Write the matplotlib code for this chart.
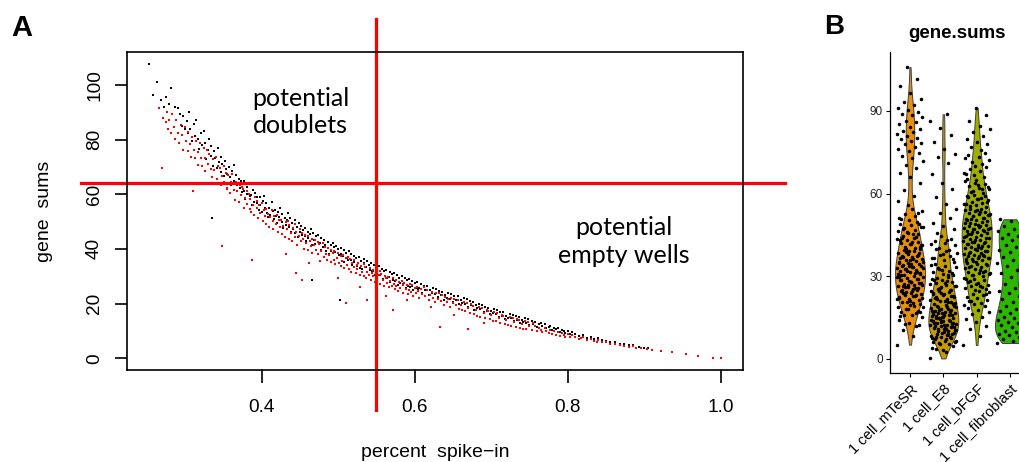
import numpy as np
import matplotlib
matplotlib.use("Agg")
import matplotlib.pyplot as plt

# ---------------- panel A: gene sums vs percent spike-in ----------------
# (percent spike-in, gene sums)
black_points = [
    (0.252, 107.6), (0.258, 96.3), (0.263, 100.9), (0.268, 94.4), (0.272, 92.0), (0.275, 95.6),
    (0.279, 93.1), (0.281, 98.7), (0.283, 89.4), (0.286, 91.8), (0.288, 87.0), (0.290, 91.5),
    (0.293, 89.2), (0.295, 85.1), (0.297, 88.6), (0.299, 84.0), (0.302, 86.9), (0.304, 82.3),
    (0.305, 90.0), (0.306, 83.8), (0.308, 79.4), (0.311, 85.6), (0.313, 81.2), (0.314, 87.0),
    (0.316, 80.3), (0.318, 76.4), (0.320, 82.5), (0.322, 78.0), (0.324, 83.1),
    (0.326, 78.9), (0.327, 72.8), (0.329, 76.3), (0.331, 80.1), (0.333, 74.0), (0.334, 77.5),
    (0.335, 51.3), (0.336, 70.2), (0.337, 75.8), (0.339, 73.1), (0.341, 69.6), (0.342, 76.9),
    (0.344, 71.7), (0.346, 73.6), (0.347, 68.0), (0.348, 70.9), (0.350, 66.8), (0.352, 72.2),
    (0.353, 69.3), (0.354, 67.4), (0.356, 64.1), (0.357, 69.9), (0.358, 66.2), (0.360, 63.5),
    (0.361, 68.4), (0.363, 70.5), (0.364, 65.0), (0.366, 67.2), (0.367, 63.4), (0.368, 61.0),
    (0.370, 65.6), (0.371, 62.1), (0.373, 64.7), (0.374, 60.7), (0.376, 61.3), (0.377, 64.8),
    (0.378, 58.4), (0.380, 62.6), (0.381, 60.0), (0.383, 63.9), (0.384, 59.2), (0.386, 59.8),
    (0.387, 55.9), (0.388, 61.7), (0.390, 57.3), (0.391, 60.5), (0.393, 56.6), (0.394, 58.8),
    (0.396, 54.2), (0.397, 58.9), (0.398, 56.0), (0.400, 53.6), (0.401, 57.4), (0.403, 59.3),
    (0.404, 55.1), (0.406, 56.6), (0.407, 53.2), (0.408, 51.5), (0.410, 55.0), (0.411, 52.4),
    (0.413, 57.0), (0.414, 53.9), (0.416, 50.9), (0.417, 54.4), (0.418, 52.2), (0.420, 49.4),
    (0.421, 53.6), (0.423, 51.6), (0.424, 55.0), (0.426, 49.9), (0.427, 52.9), (0.428, 47.7),
    (0.430, 51.3), (0.431, 48.8), (0.433, 50.6), (0.434, 53.0), (0.436, 48.1), (0.437, 51.2),
    (0.438, 46.0), (0.440, 49.5), (0.441, 47.3), (0.443, 50.4), (0.444, 45.8), (0.446, 47.9),
    (0.447, 44.4), (0.448, 49.3), (0.450, 46.3), (0.451, 48.4), (0.453, 45.1), (0.454, 47.0),
    (0.456, 44.7), (0.457, 47.6), (0.458, 42.9), (0.460, 46.1), (0.461, 43.8), (0.463, 45.4),
    (0.464, 47.2), (0.465, 28.6), (0.466, 41.3), (0.467, 45.9), (0.468, 43.4), (0.470, 41.9),
    (0.471, 44.6), (0.473, 42.6), (0.474, 45.2), (0.476, 42.1), (0.477, 39.6), (0.478, 44.0),
    (0.480, 40.8), (0.481, 43.2), (0.483, 41.5), (0.484, 39.3), (0.486, 40.3), (0.487, 42.6),
    (0.488, 38.1), (0.490, 41.3), (0.491, 39.2), (0.493, 42.0), (0.494, 40.7), (0.496, 38.9),
    (0.497, 41.1), (0.498, 36.8), (0.500, 39.8), (0.501, 37.6), (0.502, 21.3), (0.503, 40.5),
    (0.504, 38.3), (0.506, 37.4), (0.507, 39.6), (0.508, 35.3), (0.510, 38.6), (0.511, 36.5),
    (0.513, 35.8), (0.514, 39.2), (0.516, 36.0), (0.517, 38.1), (0.518, 34.2), (0.520, 37.3),
    (0.521, 35.1), (0.523, 36.8), (0.524, 33.9), (0.526, 34.7), (0.527, 36.9), (0.528, 33.0),
    (0.530, 35.6), (0.531, 32.6), (0.533, 35.0), (0.534, 36.3), (0.536, 33.3), (0.537, 35.4),
    (0.538, 31.5), (0.540, 34.1), (0.541, 32.4), (0.543, 35.0), (0.544, 31.9), (0.546, 32.0),
    (0.547, 34.0), (0.548, 30.3), (0.550, 33.1), (0.551, 31.2), (0.553, 33.8), (0.554, 30.6),
    (0.556, 30.9), (0.557, 32.7), (0.558, 29.0), (0.560, 31.8), (0.561, 30.1), (0.563, 32.4),
    (0.564, 29.5), (0.566, 29.7), (0.567, 31.5), (0.568, 27.9), (0.570, 30.7), (0.571, 28.8),
    (0.573, 31.2), (0.574, 28.3), (0.576, 28.6), (0.577, 30.3), (0.578, 26.8), (0.580, 29.5),
    (0.581, 27.7), (0.583, 30.0), (0.584, 27.2), (0.586, 27.5), (0.587, 29.2), (0.588, 25.8),
    (0.590, 28.5), (0.591, 26.6), (0.593, 28.9), (0.594, 26.1), (0.596, 26.6), (0.597, 28.2),
    (0.598, 24.9), (0.600, 27.4), (0.601, 25.7), (0.603, 28.0), (0.604, 25.3), (0.606, 25.8),
    (0.608, 27.3), (0.610, 24.0), (0.612, 26.5), (0.614, 24.8), (0.616, 26.3), (0.618, 23.2),
    (0.620, 24.9), (0.622, 23.8), (0.624, 25.8), (0.626, 23.6), (0.628, 25.4), (0.630, 22.3),
    (0.632, 24.6), (0.634, 23.0), (0.636, 24.4), (0.638, 21.4), (0.640, 23.1), (0.642, 22.0),
    (0.644, 24.0), (0.646, 21.8), (0.648, 23.5), (0.650, 20.5), (0.652, 22.7), (0.654, 21.2),
    (0.656, 22.6), (0.658, 19.7), (0.660, 21.3), (0.662, 20.3), (0.664, 22.1), (0.666, 20.0),
    (0.668, 21.7), (0.670, 18.8), (0.672, 20.9), (0.674, 19.4), (0.676, 20.5), (0.678, 17.8),
    (0.680, 19.3), (0.682, 18.4), (0.684, 20.0), (0.686, 18.0), (0.688, 19.6), (0.690, 16.8),
    (0.692, 18.9), (0.694, 17.4), (0.696, 18.5), (0.698, 16.0), (0.700, 17.3), (0.702, 16.5),
    (0.704, 18.0), (0.706, 16.3), (0.708, 17.6), (0.710, 15.2), (0.712, 17.0), (0.714, 15.6),
    (0.716, 16.8), (0.718, 14.4), (0.720, 15.6), (0.722, 14.9), (0.724, 16.2), (0.726, 14.6),
    (0.728, 15.9), (0.730, 13.6), (0.732, 15.3), (0.734, 14.0), (0.736, 15.1), (0.738, 12.9),
    (0.740, 13.9), (0.742, 13.3), (0.744, 14.6), (0.746, 12.9), (0.748, 14.2), (0.750, 12.2),
    (0.753, 13.6), (0.755, 12.5), (0.757, 13.3), (0.760, 11.6), (0.762, 12.4), (0.765, 12.9),
    (0.767, 11.8), (0.770, 12.4), (0.772, 10.9), (0.775, 11.5), (0.777, 11.9), (0.780, 10.3),
    (0.782, 11.2), (0.785, 10.6), (0.787, 10.9), (0.790, 9.5), (0.792, 10.2), (0.795, 10.0),
    (0.797, 9.2), (0.800, 9.8), (0.803, 9.0), (0.806, 9.6), (0.810, 8.9), (0.815, 8.0),
    (0.820, 8.6), (0.825, 7.5), (0.830, 7.6), (0.835, 7.0), (0.840, 7.3), (0.845, 6.5),
    (0.850, 6.3), (0.856, 5.9), (0.862, 5.8), (0.868, 5.1), (0.874, 5.2), (0.880, 4.7),
    (0.886, 4.8), (0.893, 4.1), (0.900, 3.8), (0.905, 3.6),
]
red_points = [
    (0.266, 91.5), (0.269, 69.6), (0.271, 88.0), (0.274, 86.3), (0.276, 90.1), (0.277, 84.0),
    (0.279, 87.2), (0.281, 82.5), (0.283, 89.3), (0.285, 84.6), (0.286, 80.1), (0.288, 87.0),
    (0.290, 82.3), (0.292, 78.8), (0.294, 85.4), (0.295, 81.6), (0.297, 76.2), (0.299, 84.4),
    (0.301, 79.3), (0.303, 75.8), (0.304, 82.7), (0.306, 78.2), (0.307, 73.5), (0.309, 81.1),
    (0.310, 61.2), (0.311, 76.0), (0.313, 73.1), (0.314, 79.5), (0.316, 75.4), (0.317, 70.5),
    (0.319, 78.6), (0.321, 73.1), (0.322, 70.2), (0.324, 76.8),
    (0.325, 73.1), (0.326, 68.4), (0.328, 76.0), (0.330, 70.9), (0.331, 74.6), (0.333, 69.2),
    (0.335, 66.3), (0.336, 72.7), (0.338, 68.9), (0.340, 73.5), (0.341, 65.4), (0.343, 70.2),
    (0.345, 69.5), (0.346, 63.2), (0.348, 41.2), (0.348, 66.8), (0.350, 70.4), (0.351, 64.6),
    (0.353, 67.9), (0.354, 62.3), (0.355, 62.0), (0.356, 66.9), (0.358, 60.3), (0.360, 64.4),
    (0.361, 67.5), (0.363, 61.6), (0.364, 63.7), (0.365, 58.0), (0.366, 64.6), (0.368, 61.1),
    (0.370, 57.2), (0.371, 63.4), (0.373, 59.6), (0.374, 62.5), (0.375, 61.8), (0.376, 55.1),
    (0.378, 58.7), (0.380, 61.0), (0.381, 56.3), (0.383, 59.9), (0.384, 54.7), (0.385, 58.4),
    (0.386, 53.6), (0.387, 36.0), (0.388, 56.2), (0.390, 52.5), (0.391, 59.1), (0.393, 54.8),
    (0.394, 57.5), (0.395, 51.2), (0.396, 55.9), (0.398, 53.0), (0.400, 56.7), (0.401, 50.1),
    (0.403, 54.3), (0.404, 52.2), (0.405, 54.6), (0.406, 49.0), (0.408, 52.8), (0.410, 48.1),
    (0.411, 51.5), (0.413, 54.1), (0.414, 50.3), (0.415, 47.3), (0.416, 51.9), (0.418, 49.2),
    (0.420, 52.5), (0.421, 46.2), (0.423, 50.6), (0.424, 48.0), (0.425, 50.7), (0.426, 45.5),
    (0.428, 48.4), (0.430, 44.3), (0.431, 49.7), (0.432, 38.2), (0.433, 47.1), (0.434, 50.2),
    (0.435, 43.6), (0.436, 48.8), (0.438, 45.7), (0.440, 42.9), (0.441, 47.8), (0.443, 44.5),
    (0.444, 49.0), (0.445, 31.0), (0.445, 46.2), (0.446, 41.4), (0.448, 44.6), (0.450, 47.2),
    (0.451, 42.7), (0.452, 28.6), (0.453, 45.8), (0.454, 43.5), (0.455, 40.1), (0.456, 45.2),
    (0.458, 42.2), (0.460, 44.6), (0.461, 39.6), (0.462, 34.8), (0.463, 43.0), (0.464, 41.1),
    (0.465, 43.7), (0.466, 38.4), (0.468, 41.4), (0.470, 43.2), (0.471, 39.5), (0.473, 42.4),
    (0.474, 38.0), (0.475, 41.7), (0.476, 35.5), (0.478, 39.2), (0.480, 42.1), (0.481, 37.0),
    (0.483, 40.6), (0.484, 38.3), (0.485, 36.1), (0.486, 40.4), (0.488, 37.7), (0.490, 35.3),
    (0.491, 39.6), (0.493, 38.5), (0.494, 35.9), (0.495, 39.1), (0.496, 34.4), (0.498, 36.6),
    (0.499, 29.5), (0.500, 38.6), (0.501, 35.0), (0.503, 37.3), (0.504, 33.8), (0.505, 35.4),
    (0.506, 37.7), (0.508, 33.0), (0.510, 20.1), (0.510, 36.5), (0.511, 34.2), (0.513, 37.1),
    (0.514, 32.7), (0.515, 36.2), (0.516, 31.6), (0.518, 34.8), (0.520, 33.2), (0.521, 35.9),
    (0.523, 31.1), (0.524, 34.0), (0.525, 32.5), (0.526, 34.9), (0.528, 30.4), (0.529, 26.0),
    (0.530, 33.8), (0.531, 31.5), (0.533, 34.4), (0.534, 30.0), (0.535, 33.5), (0.536, 29.2),
    (0.537, 21.3), (0.538, 31.7), (0.540, 30.3), (0.541, 33.0), (0.543, 28.8), (0.544, 31.2),
    (0.545, 29.9), (0.546, 32.2), (0.548, 27.8), (0.550, 31.4), (0.551, 28.9), (0.553, 30.5),
    (0.554, 32.0), (0.555, 27.0), (0.556, 30.8), (0.558, 28.6), (0.560, 26.6), (0.561, 30.1),
    (0.562, 22.9), (0.563, 29.2), (0.564, 27.7), (0.565, 29.8), (0.566, 25.9), (0.568, 28.1),
    (0.570, 26.5), (0.571, 29.3), (0.572, 17.7), (0.573, 27.3), (0.574, 25.4), (0.575, 26.3),
    (0.576, 28.7), (0.578, 24.6), (0.580, 27.8), (0.581, 25.7), (0.583, 28.2), (0.584, 26.9),
    (0.585, 24.0), (0.586, 27.5), (0.588, 25.5), (0.590, 21.3), (0.590, 26.8), (0.591, 23.6),
    (0.593, 25.0), (0.594, 27.2), (0.595, 24.3), (0.596, 26.7), (0.598, 22.8), (0.600, 25.8),
    (0.601, 23.9), (0.603, 26.2), (0.604, 24.7), (0.606, 22.2), (0.608, 25.4), (0.610, 23.6),
    (0.612, 25.9), (0.614, 22.9), (0.616, 24.8), (0.618, 21.4), (0.620, 23.2), (0.621, 18.6),
    (0.622, 24.3), (0.624, 22.1), (0.626, 20.5), (0.628, 23.7), (0.630, 21.8), (0.632, 24.0),
    (0.633, 11.6), (0.634, 21.1), (0.636, 23.1), (0.638, 19.6), (0.640, 22.4), (0.642, 20.7),
    (0.644, 21.6), (0.646, 18.9), (0.648, 22.2), (0.650, 20.1), (0.651, 15.9), (0.652, 21.5),
    (0.654, 19.3), (0.656, 21.2), (0.658, 18.0), (0.660, 19.6), (0.662, 17.5), (0.664, 20.7),
    (0.666, 17.4), (0.668, 20.3), (0.670, 10.6), (0.670, 18.5), (0.672, 16.6), (0.674, 19.8),
    (0.676, 19.1), (0.678, 16.0), (0.680, 17.6), (0.682, 15.6), (0.684, 18.7), (0.686, 15.2),
    (0.688, 18.2), (0.690, 16.5), (0.691, 13.0), (0.692, 14.7), (0.694, 17.6), (0.696, 17.2),
    (0.698, 14.3), (0.700, 15.7), (0.702, 13.8), (0.704, 16.8), (0.706, 13.5), (0.708, 16.4),
    (0.710, 14.8), (0.712, 13.0), (0.714, 15.9), (0.716, 15.5), (0.718, 12.5), (0.720, 14.1),
    (0.722, 12.2), (0.724, 15.0), (0.726, 11.7), (0.728, 14.8), (0.730, 13.1), (0.732, 11.5),
    (0.734, 14.3), (0.736, 13.9), (0.738, 11.0), (0.740, 12.4), (0.742, 10.8), (0.744, 13.5),
    (0.746, 10.6), (0.748, 13.2), (0.750, 11.7), (0.753, 10.3), (0.755, 12.8), (0.757, 11.9),
    (0.760, 9.9), (0.762, 11.2), (0.765, 10.4), (0.767, 9.6), (0.770, 11.0), (0.772, 10.0),
    (0.775, 9.2), (0.777, 10.4), (0.780, 9.0), (0.782, 9.8), (0.785, 8.6), (0.787, 9.6),
    (0.790, 8.1), (0.792, 9.2), (0.795, 8.4), (0.797, 7.8), (0.800, 8.9), (0.803, 7.6),
    (0.806, 8.4), (0.810, 7.9), (0.815, 7.1), (0.818, 7.4), (0.820, 7.6), (0.825, 6.8),
    (0.830, 6.9), (0.835, 6.3), (0.838, 6.0), (0.840, 6.6), (0.845, 5.9), (0.850, 5.8),
    (0.856, 5.3), (0.862, 5.3), (0.868, 4.8), (0.874, 4.6), (0.880, 4.2), (0.886, 4.3),
    (0.890, 3.9), (0.896, 3.6), (0.904, 3.2), (0.911, 3.0), (0.922, 2.7), (0.937, 2.4),
    (0.955, 1.6), (0.970, 0.8), (0.990, 0.2), (1.000, 0.0),
]
spike_cutoff = 0.549
gene_cutoff = 64.1
x_ticks_a = [0.4, 0.6, 0.8, 1.0]
y_ticks_a = [0, 20, 40, 60, 80, 100]

# ---------------- panel B: gene.sums per condition ----------------
groups = ["1 cell_mTeSR", "1 cell_E8", "1 cell_bFGF", "1 cell_fibroblast"]
group_colors = ["#E8900C", "#C69C00", "#9EAD00", "#2DB600"]
mtesr = [
    5.2, 8.4, 10.6, 12.3, 13.1, 14.2, 11.8, 12.8,
    15.4, 16.1, 16.9, 17.5, 18.2, 18.8, 19.3, 15.9, 17.1, 19.7, 15.7, 16.5, 18.0, 19.0,
    20.2, 20.8, 21.3, 21.9, 22.4, 22.7, 23.1, 23.6, 24.0, 24.5, 24.9, 20.5, 21.6, 22.9, 23.8,
    20.0, 21.1, 22.0, 23.3, 24.2, 22.2, 24.7,
    25.1, 25.6, 26.0, 26.4, 26.9, 27.2, 27.7, 28.1, 28.5, 28.9, 29.3, 29.8, 25.4, 26.6, 27.5, 28.3, 29.6,
    25.8, 26.2, 27.0, 27.9, 28.7, 29.1, 26.8, 29.9,
    30.2, 30.6, 31.0, 31.5, 31.8, 32.2, 32.7, 33.0, 33.4, 33.9, 34.3, 34.8, 30.9, 31.3, 32.5, 33.6, 34.5,
    30.4, 31.7, 32.0, 32.9, 33.2, 34.1, 31.1, 33.8,
    35.1, 35.5, 36.0, 36.4, 36.9, 37.2, 37.8, 38.1, 38.6, 39.0, 39.5, 39.9, 35.8, 36.7, 37.5, 38.9,
    35.3, 36.2, 37.0, 38.4, 39.3, 35.0,
    40.3, 40.8, 41.2, 41.7, 42.1, 42.6, 43.0, 43.5, 44.0, 44.6, 40.6, 41.9, 43.3, 44.3,
    40.0, 41.4, 42.4, 43.8,
    45.2, 45.8, 46.3, 46.9, 47.4, 48.0, 48.5, 49.1, 49.7, 46.1, 47.8, 45.5, 47.1, 48.8,
    50.4, 51.2, 51.9, 52.7, 53.6, 54.5, 50.9, 53.1, 55.8, 57.4, 59.1, 61.3, 63.8, 65.9, 67.6, 69.4,
    70.5, 71.8, 72.9, 73.7, 74.6, 75.3, 76.2, 77.0, 77.9, 78.5, 79.2, 79.8,
    80.3, 81.0, 81.6, 82.2, 82.9, 83.5, 84.1, 85.2, 85.9, 86.5, 87.8, 88.4, 89.0,
    89.6, 90.3, 91.2, 92.0, 93.1, 94.2, 96.4, 98.9, 101.7, 105.9,
]
e8 = [
    0.2, 2.4, 3.5, 4.6, 3.1, 4.1,
    5.3, 5.8, 6.2, 6.7, 7.1, 7.5, 7.9, 8.3, 8.7, 9.0, 9.4, 9.8, 6.0, 8.1,
    5.6, 6.4, 7.3, 8.0, 8.9, 9.6, 7.7, 9.2,
    10.1, 10.4, 10.8, 11.1, 11.5, 11.8, 12.2, 12.5, 12.9, 13.2, 13.6, 13.9, 14.3, 14.7,
    10.6, 11.3, 12.0, 12.7, 13.4, 14.1, 10.3, 11.0, 11.6, 12.4, 13.0, 13.7, 14.5, 12.6, 10.8, 14.9,
    15.0, 15.4, 15.7, 16.1, 16.5, 16.8, 17.2, 17.5, 17.9, 18.3, 18.6, 19.0, 19.4, 19.8,
    15.2, 16.3, 17.0, 17.7, 18.8, 19.6, 15.6, 16.0, 16.7, 17.4, 18.1, 18.9, 19.2, 15.9,
    20.1, 20.6, 21.0, 21.5, 21.9, 22.4, 22.8, 23.3, 23.7, 24.2, 24.7, 20.4, 21.2, 22.1, 23.0,
    23.9, 24.5, 20.8, 21.7, 22.6, 23.5, 24.0,
    25.2, 25.8, 26.3, 26.9, 27.4, 28.0, 28.5, 29.1, 29.7, 25.5, 26.6, 27.7, 28.8,
    25.0, 26.1, 27.1, 28.2, 29.4,
    30.3, 30.9, 31.5, 32.1, 32.7, 33.3, 33.9, 34.6, 31.2, 32.4, 34.0, 30.6, 33.0,
    35.2, 35.9, 36.5, 37.2, 37.8, 38.5, 39.1, 39.8, 36.1, 38.0, 36.8, 39.5,
    40.4, 41.3, 42.1, 42.9, 43.7, 44.5, 41.8, 43.3, 45.6, 47.0, 48.3, 49.5,
    51.0, 52.8, 54.3, 56.1, 58.7, 61.5, 64.0, 67.3, 71.0, 73.2, 74.5, 76.1, 78.8, 81.4, 83.9,
    86.2, 88.8,
]
bfgf = [
    5.1, 8.2, 10.7, 12.1, 13.4, 14.6,
    15.3, 16.2, 17.0, 17.8, 18.5, 19.2, 19.8, 19.5,
    20.3, 20.9, 21.5, 22.0, 22.6, 23.1, 23.7, 24.2, 24.7, 21.2, 23.4,
    25.1, 25.6, 26.1, 26.6, 27.0, 27.5, 28.0, 28.5, 29.0, 29.5, 26.3, 28.2, 25.4, 27.3, 28.9,
    30.1, 30.5, 30.9, 31.3, 31.7, 32.1, 32.5, 32.9, 33.3, 33.7, 34.1, 34.5, 34.9, 31.5,
    30.3, 31.1, 32.3, 33.5, 34.3,
    35.1, 35.4, 35.8, 36.1, 36.5, 36.8, 37.2, 37.5, 37.9, 38.2, 38.6, 38.9, 39.3, 39.7, 36.3, 37.7,
    35.6, 36.6, 37.4, 38.4, 39.1, 39.9,
    40.1, 40.4, 40.8, 41.1, 41.4, 41.8, 42.1, 42.5, 42.8, 43.1, 43.5, 43.8, 44.2, 44.6, 40.9, 42.3,
    43.9, 40.6, 41.6, 42.6, 43.3, 44.4,
    45.1, 45.4, 45.7, 46.1, 46.4, 46.8, 47.1, 47.5, 47.8, 48.2, 48.5, 48.9, 49.2, 49.6, 45.9, 47.3,
    48.7, 45.3, 46.3, 47.0, 47.7, 48.4, 49.4,
    50.1, 50.5, 50.9, 51.3, 51.7, 52.1, 52.5, 52.9, 53.3, 53.7, 54.1, 54.6, 50.7, 52.3, 53.9,
    50.3, 51.1, 51.9, 52.7, 53.5, 54.4,
    55.2, 55.7, 56.2, 56.7, 57.1, 57.6, 58.1, 58.6, 59.1, 59.6, 56.4, 58.3, 55.5, 56.9, 57.9, 59.3,
    60.3, 60.9, 61.5, 62.1, 62.8, 63.4, 64.0, 64.6, 61.7, 60.6, 62.5, 63.1,
    65.4, 66.1, 66.8, 67.6, 68.3, 69.1, 69.8, 65.0, 67.2,
    70.6, 71.5, 72.3, 73.2, 74.0, 74.8, 70.1, 72.8,
    75.7, 76.8, 77.9, 78.9, 79.8, 80.9, 82.2, 83.4, 84.6, 86.3, 88.4, 91.1,
]
fibroblast = [
    5.8, 6.4, 7.1, 7.9, 8.6, 9.2, 9.8,
    10.3, 10.9, 11.6, 12.2, 12.9, 13.5, 14.1, 14.7,
    15.3, 16.0, 16.8, 17.5, 18.3, 19.1, 19.8,
    20.7, 21.8, 22.9, 23.9, 24.8, 25.9, 27.3, 28.6, 29.8,
    31.1, 32.4, 33.7, 34.9, 35.8, 36.9, 37.9, 38.8, 39.7,
    40.5, 41.4, 42.3, 43.1, 43.9, 44.7, 45.5, 46.4, 47.3, 48.2, 49.1, 50.0, 50.7,
]
group_values = [mtesr, e8, bfgf, fibroblast]
y_ticks_b = [0, 30, 60, 90]

W, H = 1020, 462
sans = ["Liberation Sans", "DejaVu Sans"]
plt.rcParams["font.family"] = sans

fig = plt.figure(figsize=(W / 100, H / 100), dpi=100)

# ---- panel A ----
axA = fig.add_axes([126.7 / W, 1 - 370 / H, (743.3 - 126.7) / W, (370 - 52.3) / H])
bx, by = np.array(black_points).T
rx, ry = np.array(red_points).T
axA.scatter(bx, by, s=4.2, c="black", marker="s", linewidths=0)
axA.scatter(rx, ry, s=4.2, c="red", marker="s", linewidths=0)
axA.set_xlim(0.2232, 1.0298)
axA.set_ylim(-4.3, 111.9)
axA.plot([spike_cutoff, spike_cutoff], [-19, 124], color="red", lw=2.3, clip_on=False)
axA.plot([0.163, 1.085], [gene_cutoff, gene_cutoff], color="red", lw=2.3, clip_on=False)
for s in axA.spines.values():
    s.set_linewidth(1.2)
axA.set_xticks(x_ticks_a)
axA.set_xticklabels(["0.4", "0.6", "0.8", "1.0"])
axA.set_yticks(y_ticks_a)
axA.tick_params(axis="both", length=9, width=1.2, labelsize=13.7)
axA.tick_params(axis="x", pad=12)
axA.tick_params(axis="y", pad=8)
for lab in axA.get_yticklabels():
    lab.set_rotation(90)
    lab.set_va("center")
axA.set_xlabel("percent  spike\u2212in", fontsize=14, labelpad=20)
axA.set_ylabel("gene  sums", fontsize=14, labelpad=24)
note_font = dict(family=["Lato", "DejaVu Sans"], fontsize=18, ha="center", va="center",
                 linespacing=1.25)
axA.text(0.451, 90.1, "potential\ndoublets", **note_font)
axA.text(0.873, 42.8, "potential\nempty wells", **note_font)

# ---- panel B ----
axB = fig.add_axes([890 / W, 1 - 373.3 / H, 140 / W, (373.3 - 51.7) / H])
golden = 0.6180339887
for i, (vals, col) in enumerate(zip(group_values, group_colors)):
    parts = axB.violinplot([vals], positions=[i + 1], widths=0.9, showextrema=False,
                           bw_method=0.19)
    body = parts["bodies"][0]
    body.set_facecolor(col)
    body.set_edgecolor("#404040")
    body.set_linewidth(0.7)
    body.set_alpha(1)
    n = len(vals)
    offs = ((np.arange(n) * golden) % 1 - 0.5) * 0.8
    axB.scatter(i + 1 + offs, vals, s=6.5, c="black", linewidths=0, zorder=3)
axB.set_xlim(0.4, 4.6)
axB.set_ylim(-5.2, 111.5)
axB.spines["top"].set_visible(False)
axB.spines["right"].set_visible(False)
axB.spines["left"].set_linewidth(0.9)
axB.spines["bottom"].set_linewidth(0.9)
axB.set_yticks(y_ticks_b)
axB.set_xticks(range(1, len(groups) + 1))
axB.set_xticklabels(groups, rotation=45, ha="right", rotation_mode="anchor", fontsize=10.5)
axB.tick_params(axis="y", labelsize=8.5, length=3, width=0.8, pad=2, labelcolor="#222222")
axB.tick_params(axis="x", length=3, width=0.8, pad=3)

fig.text(957 / W, 1 - 33 / H, "gene.sums", fontsize=13.5, fontweight="bold", ha="center",
         va="center")
fig.text(22 / W, 1 - 27.5 / H, "A", fontsize=21, fontweight="bold", ha="center", va="center")
fig.text(834 / W, 1 - 27 / H, "B", fontsize=20, fontweight="bold", ha="center", va="center")

fig.savefig("out.png", dpi=100)
